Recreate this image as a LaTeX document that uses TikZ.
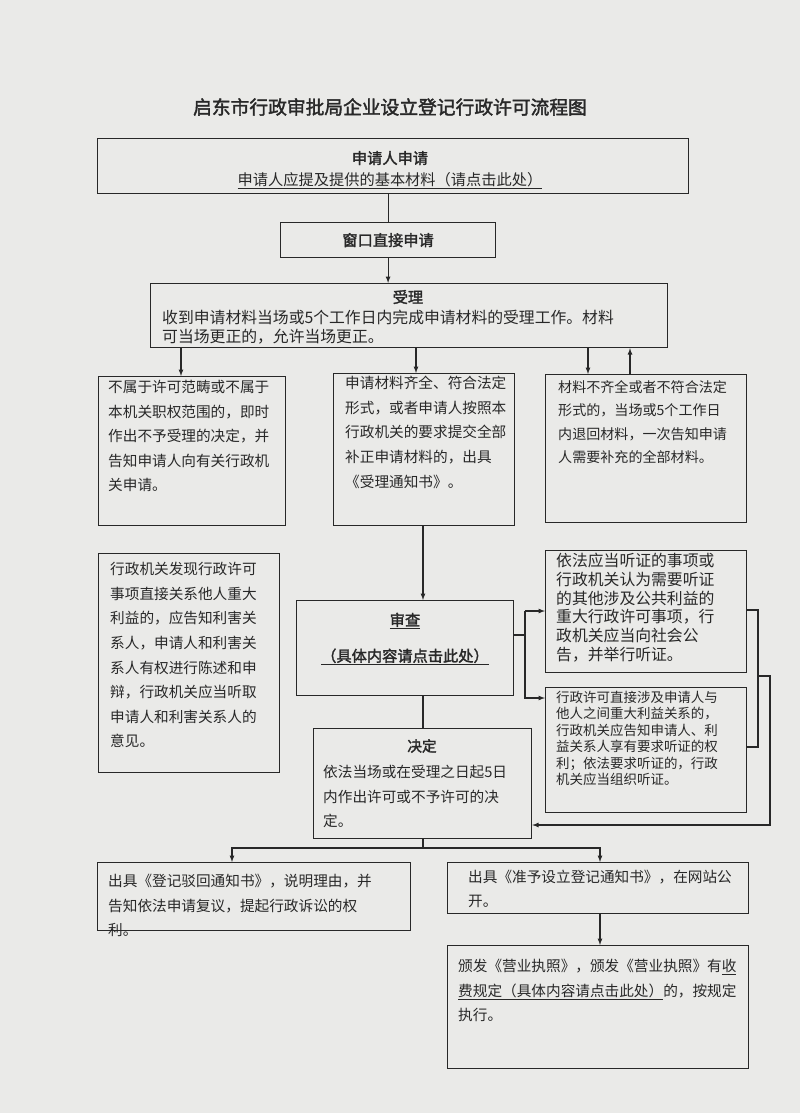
\documentclass[tikz,border=0pt]{standalone}
\usepackage{fontspec}
\setmainfont{Noto Sans CJK SC}[AutoFakeBold=2]
\usetikzlibrary{arrows}
\definecolor{paper}{RGB}{234,234,232}
\definecolor{ink}{RGB}{40,40,40}

\tikzset{
  box/.style={draw=ink, line width=1pt, anchor=north west, inner sep=0pt},
  txt/.style={anchor=north west, align=left, inner sep=0pt, text=ink},
  link/.style={draw=ink, line width=0.9pt},
  arr/.style={link, ->, >=latex}
}

\begin{document}
\begin{tikzpicture}[x=0.03cm, y=-0.03cm]

      % paper and margins
      \fill[paper] (0,0) rectangle (800,1113);
      \useasboundingbox (0,0) rectangle (800,1113);

      \node[text=ink, font=\fontsize{16}{18}\selectfont\bfseries] (title) at (390,107) {启东市行政审批局企业设立登记行政许可流程图};

      % boxes
      \node[box, minimum width=17.73cm, minimum height=1.65cm] (apply) at (97,138) {};
      \node[box, minimum width=6.45cm, minimum height=1.05cm] (window) at (280,222) {};
      \node[box, minimum width=15.51cm, minimum height=1.92cm] (accept) at (150,283) {};
      \node[box, minimum width=5.61cm, minimum height=4.47cm] (refuse) at (98,376) {};
      \node[box, minimum width=5.43cm, minimum height=4.56cm] (complete) at (333,373) {};
      \node[box, minimum width=6.03cm, minimum height=4.44cm] (incomplete) at (545,374) {};
      \node[box, minimum width=5.43cm, minimum height=6.57cm] (interest) at (98,553) {};
      \node[box, minimum width=6.51cm, minimum height=2.85cm] (review) at (296,600) {};
      \node[box, minimum width=6.03cm, minimum height=3.66cm] (hearA) at (545,550) {};
      \node[box, minimum width=6.03cm, minimum height=3.75cm] (hearB) at (545,687) {};
      \node[box, minimum width=6.54cm, minimum height=3.3cm] (decide) at (313,728) {};
      \node[box, minimum width=9.39cm, minimum height=2.04cm] (reject) at (97,862) {};
      \node[box, minimum width=9.03cm, minimum height=1.53cm] (publish) at (447,862) {};
      \node[box, minimum width=9.03cm, minimum height=3.69cm] (license) at (447,945) {};

      % texts
      \node[text=ink, font=\fontsize{13}{15}\selectfont\bfseries] at (390,158) {申请人申请};
      \node[text=ink, font=\fontsize{13}{15}\selectfont] at (390,181) {\underline{申请人应提及提供的基本材料（请点击此处）}};
      \node[text=ink, font=\fontsize{13}{15}\selectfont\bfseries] at (window.center) {窗口直接申请};
      \node[text=ink, font=\fontsize{13}{15}\selectfont\bfseries] at (408,297) {受理};
      \node[txt, font=\fontsize{13.5}{16}\selectfont] at (162,310) {收到申请材料当场或5个工作日内完成申请材料的受理工作。材料\\可当场更正的，允许当场更正。};
      \node[txt, font=\fontsize{12.5}{21}\selectfont] at (108,380) {不属于许可范畴或不属于\\本机关职权范围的，即时\\作出不予受理的决定，并\\告知申请人向有关行政机\\关申请。};
      \node[txt, font=\fontsize{12.5}{21}\selectfont] at (345,376) {申请材料齐全、符合法定\\形式，或者申请人按照本\\行政机关的要求提交全部\\补正申请材料的，出具\\《受理通知书》。};
      \node[txt, font=\fontsize{12}{20}\selectfont] at (558,380) {材料不齐全或者不符合法定\\形式的，当场或5个工作日\\内退回材料，一次告知申请\\人需要补充的全部材料。};
      \node[txt, font=\fontsize{12.5}{21}\selectfont] at (110,562) {行政机关发现行政许可\\事项直接关系他人重大\\利益的，应告知利害关\\系人，申请人和利害关\\系人有权进行陈述和申\\辩，行政机关应当听取\\申请人和利害关系人的\\意见。};
      \node[text=ink, font=\fontsize{13}{15}\selectfont\bfseries] at (405,621) {\underline{审查}};
      \node[text=ink, font=\fontsize{13}{15}\selectfont\bfseries] at (405,657) {\underline{（具体内容请点击此处）}};
      \node[txt, font=\fontsize{13.5}{16}\selectfont] at (556,553) {依法应当听证的事项或\\行政机关认为需要听证\\的其他涉及公共利益的\\重大行政许可事项，行\\政机关应当向社会公\\告，并举行听证。};
      \node[txt, font=\fontsize{11.5}{14}\selectfont] at (556,691) {行政许可直接涉及申请人与\\他人之间重大利益关系的，\\行政机关应告知申请人、利\\益关系人享有要求听证的权\\利；依法要求听证的，行政\\机关应当组织听证。};
      \node[text=ink, font=\fontsize{12.5}{15}\selectfont\bfseries] at (422,746) {决定};
      \node[txt, font=\fontsize{12.5}{21}\selectfont] at (323,765) {依法当场或在受理之日起5日\\内作出许可或不予许可的决\\定。};
      \node[txt, font=\fontsize{12.5}{21}\selectfont] at (108,874) {出具《登记驳回通知书》，说明理由，并\\告知依法申请复议，提起行政诉讼的权\\利。};
      \node[txt, font=\fontsize{12.5}{20}\selectfont] at (468,870) {出具《准予设立登记通知书》，在网站公\\开。};
      \node[txt, font=\fontsize{12.5}{21}\selectfont] at (458,959) {颁发《营业执照》，颁发《营业执照》有\underline{收}\\\underline{费规定（具体内容请点击此处）}的，按规定\\执行。};

      % connectors
      \draw[link] (apply.south -| window.north) -- (window.north);
      \draw[arr] (window.south) -- (window.south |- accept.north);
      \draw[arr] (accept.south -| 181,0) -- (refuse.north -| 181,0);
      \draw[arr] (accept.south -| 416,0) -- (complete.north -| 416,0);
      \draw[arr] (accept.south -| 588,0) -- (incomplete.north -| 588,0);
      \draw[arr] (incomplete.north -| 630,0) -- (accept.south -| 630,0);
      \draw[arr] (complete.south -| 423,0) -- (review.north -| 423,0);
      \draw[link] (review.south -| 423,0) -- (decide.north -| 423,0);
      \draw[link] (review.east |- 0,635) -- (525,635);
      \draw[arr] (525,611) -- (hearA.west |- 0,611);
      \draw[arr] (525,611) -- (525,698) -- (hearB.west |- 0,698);
      \draw[link] (hearA.east |- 0,610) -| (758,747) -- (hearB.east |- 0,747);
      \draw[arr] (758,676) -| (770,825) -- (decide.east |- 0,825);
      \draw[link] (decide.south -| 423,0) -- (423,848);
      \draw[arr] (423,848) -| (reject.north -| 232,0);
      \draw[arr] (423,848) -| (publish.north -| 600,0);
      \draw[arr] (publish.south -| 600,0) -- (license.north -| 600,0);

    \end{tikzpicture}
\end{document}
